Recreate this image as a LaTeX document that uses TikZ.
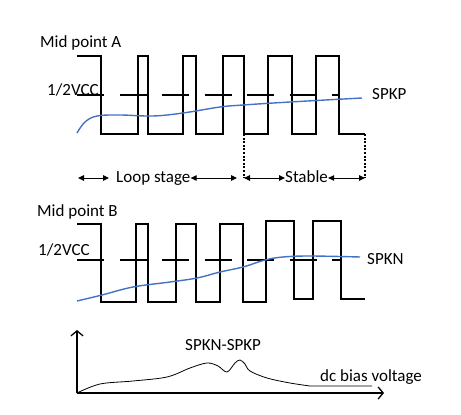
\documentclass[tikz,border=0pt]{standalone}
\usepackage{fontspec}
\setmainfont{Carlito}
\usepackage{xcolor}
\usetikzlibrary{arrows.meta}
\definecolor{biasblue}{HTML}{4472C4}

\begin{document}
\begin{tikzpicture}[x=1pt,y=-1pt,
    wave/.style={line width=1.3pt, line join=miter},
    halfvcc/.style={line width=1.3pt, dash pattern=on 27pt off 15.5pt},
    bias/.style={line width=1.4pt, biasblue},
    guide/.style={line width=1.2pt, dash pattern=on 2pt off 1.6pt},
    span/.style={line width=1pt, {Triangle[length=6pt,width=5.5pt]}-{Triangle[length=6pt,width=5.5pt]}},
    lbl/.style={inner sep=0pt, anchor=base west, font=\fontsize{17}{20}\selectfont}]

            \useasboundingbox (0,0) rectangle (461,415);

            % Mid point A
            \node[lbl] (midA) at (40,47.3) {Mid point A};
            \node[lbl] (vccA) at (47,95.5) {1/2VCC};
            \node[lbl] (spkp) at (372,99) {SPKP};

            \draw[halfvcc] (77,95) -- (338,95);
            \draw[wave] (77,56)
                -- (101,56) -- (101,134) -- (138,134) -- (138,56)
                -- (148,56) -- (148,134) -- (183,134) -- (183,56)
                -- (196,56) -- (196,134) -- (223,134) -- (223,56)
                -- (244,56) -- (244,134) -- (268,134) -- (268,56)
                -- (292,56) -- (292,134) -- (316,134) -- (316,56)
                -- (339,56) -- (339,134) -- (365,134);
            \draw[bias] plot[smooth, tension=0.6] coordinates {(77,133) (85,122) (97,116) (120,115)
                (153,116) (183,113) (220,107) (243,105) (290,102) (362,98)};

            % Loop stage / Stable
            \node[lbl] (loop) at (116,182) {Loop stage};
            \node[lbl] (stable) at (285,182) {Stable};
            \coordinate (loopL) at (78,178);
            \coordinate (stableL) at (244,178);
            \coordinate (stableR) at (365,178);

            \draw[guide] (244,134) -- (stableL);
            \draw[guide] (365,134) -- (stableR);
            \draw[span] (loopL) -- (109,178);
            \draw[span] (loop.east |- loopL) -- (237,178);
            \draw[span] (stableL) -- (stable.west |- stableL);
            \draw[span] (stable.east |- stableR) -- (stableR);

            % Mid point B
            \node[lbl] (midB) at (37,216.7) {Mid point B};
            \node[lbl] (vccB) at (38,255) {1/2VCC};
            \node[lbl] (spkn) at (367,264) {SPKN};

            \draw[halfvcc] (77,260) -- (341,260);
            \draw[wave] (77,224)
                -- (101,224) -- (101,302) -- (136,302) -- (136,224)
                -- (148,224) -- (148,302) -- (176,302) -- (176,224)
                -- (196,224) -- (196,302) -- (220,302) -- (220,224)
                -- (243,224) -- (243,302) -- (266,302) -- (266,221)
                -- (294,221) -- (294,299) -- (313,299) -- (313,221)
                -- (341,221) -- (341,299) -- (365,299);
            \draw[bias] plot[smooth, tension=0.6] coordinates {(77,301) (102,295) (133,287) (170,282)
                (197,278) (220,272) (243,267) (265,260) (283,257) (310,256) (360,257)};

            % SPKN-SPKP
            \coordinate (origin) at (77,393);
            \draw[line width=1.3pt, -{Straight Barb[length=5pt,width=12pt]}] (origin) -- (77,330);
            \draw[line width=1.3pt, -{Straight Barb[length=5pt,width=12pt]}] (origin) -- (384,393);
            \node[lbl] (diff) at (185,350) {SPKN-SPKP};
            \node[lbl] (dcbias) at (320,381.5) {dc bias voltage};
            \draw[line width=0.8pt] plot[smooth, tension=0.55] coordinates {(origin) (100,384) (133,381)
                (167,377) (190,368) (207,363) (218,366) (227,372) (235,363) (240,360) (245,364)
                (250,371) (267,378) (290,383) (310,386)} -- (372,386);

\end{tikzpicture}
\end{document}
